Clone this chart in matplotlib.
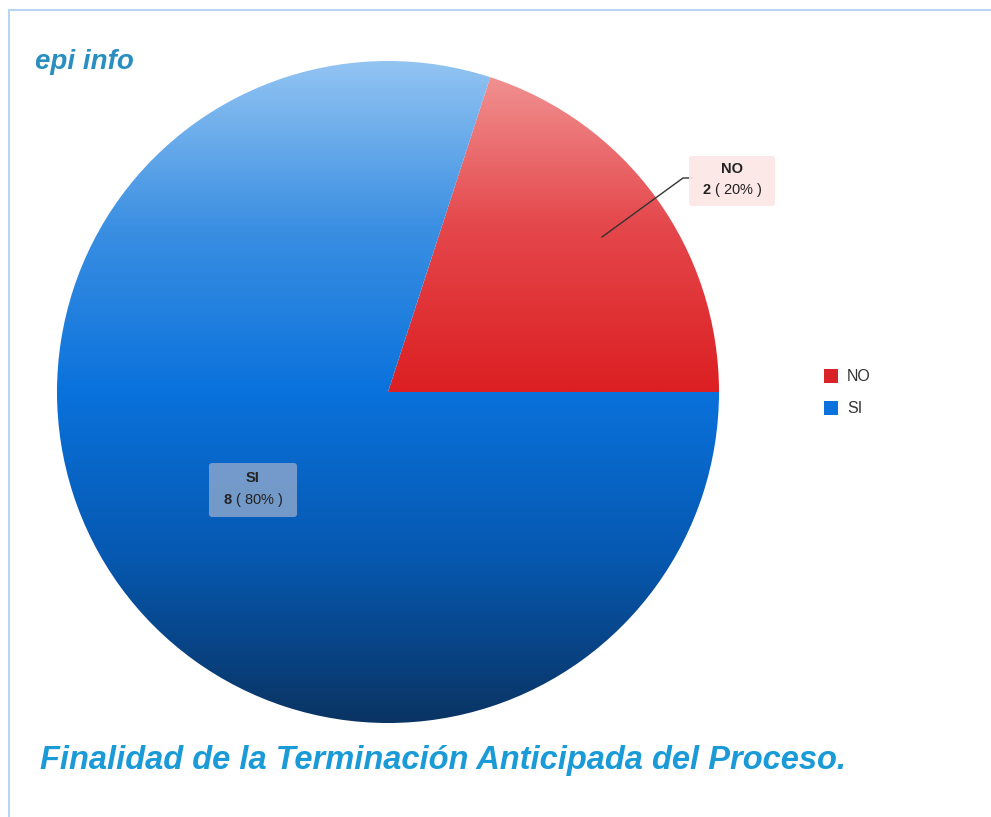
import numpy as np
import matplotlib.pyplot as plt
from matplotlib.colors import LinearSegmentedColormap
from matplotlib.patches import Rectangle, FancyBboxPatch

plt.rcParams['mathtext.fontset'] = 'custom'
plt.rcParams['mathtext.rm'] = 'Liberation Sans'
plt.rcParams['mathtext.bf'] = 'Liberation Sans:bold'

# datos del grafico
categorias = ['NO', 'SI']
valores = [2, 8]
porcentajes = [20, 80]
titulo = 'Finalidad de la Terminación Anticipada del Proceso.'

W, H = 991, 817
fig = plt.figure(figsize=(W / 100, H / 100), dpi=100)
ax = fig.add_axes([0, 0, 1, 1])

# marco azul claro
ax.add_patch(Rectangle((8.5, -20), W + 20, H - 9.5 + 20, fill=False,
                       edgecolor='#b8d4f0', linewidth=1.5))

cx, cy, r = 388, H - 392, 331

wedges, _ = ax.pie(valores, center=(cx, cy), radius=r, startangle=0,
                   counterclock=True, frame=True)

# degradados verticales
grad_rojo = LinearSegmentedColormap.from_list('rojo', ['#dc1f22', '#e4474b', '#f29898'])
grad_azul = LinearSegmentedColormap.from_list('azul', ['#0a3463', '#0658b0', '#0a72dc', '#3b8fe2', '#92c4f2'])
colores_leyenda = ['#d92427', '#0a72dc']

grad = np.linspace(0, 1, 256).reshape(-1, 1)
for w, cmap, lims in zip(wedges, [grad_rojo, grad_azul], [(cy, cy + r), (cy - r, cy + r)]):
    w.set_facecolor('none')
    w.set_edgecolor('none')
    im = ax.imshow(grad, cmap=cmap, origin='lower', aspect='auto',
                   extent=[cx - r, cx + r, lims[0], lims[1]], zorder=1)
    im.set_clip_path(w)

ax.set_xlim(0, W)
ax.set_ylim(0, H)
ax.set_aspect('equal')
ax.axis('off')

fuente = 'Liberation Sans'

# etiqueta NO con linea guia
ax.plot([602, 683, 692], [H - 237, H - 178, H - 178], color='#333333', lw=1, zorder=3)
ax.add_patch(FancyBboxPatch((689, H - 206), 86, 50, boxstyle='round,pad=0,rounding_size=3',
                            facecolor='#fde6e6', edgecolor='none', alpha=0.9, zorder=3))
ax.text(732, H - 169, categorias[0], ha='center', va='center', fontsize=10.5,
        fontweight='bold', color='#222222', zorder=4, family=fuente)
ax.text(732, H - 190, r'$\mathbf{%d}$ ( %d%% )' % (valores[0], porcentajes[0]),
        ha='center', va='center', fontsize=10.5, color='#222222', zorder=4, family=fuente)

# etiqueta SI
ax.add_patch(FancyBboxPatch((209, H - 517), 88, 54, boxstyle='round,pad=0,rounding_size=3',
                            facecolor='#8fa8cc', edgecolor='none', alpha=0.8, zorder=3))
ax.text(253, H - 478, categorias[1], ha='center', va='center', fontsize=10.5,
        fontweight='bold', color='#222222', zorder=4, family=fuente)
ax.text(253, H - 500, r'$\mathbf{%d}$ ( %d%% )' % (valores[1], porcentajes[1]),
        ha='center', va='center', fontsize=10.5, color='#222222', zorder=4, family=fuente)

# leyenda
for i, (cat, col) in enumerate(zip(categorias, colores_leyenda)):
    yy = H - 376 - i * 32
    ax.add_patch(Rectangle((824, yy - 7), 14, 14, facecolor=col, edgecolor='none'))
    ax.text(847, yy, cat, ha='left', va='center', fontsize=11.5, color='#333333', family=fuente)

ax.text(35, H - 62, 'epi info', fontsize=20, fontstyle='italic', fontweight='bold',
        color='#2a8fc0', ha='left', va='center', family='Liberation Sans')
ax.text(40, H - 760, titulo, fontsize=23.5, fontstyle='italic', fontweight='bold',
        color='#1a9ad6', ha='left', va='center', family='Liberation Sans')

fig.savefig('out.png', dpi=100)
